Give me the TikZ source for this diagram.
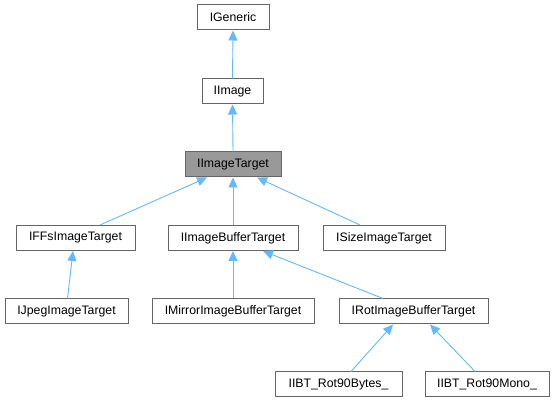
\documentclass[tikz,border=0pt]{standalone}
\usepackage{fontspec}
\setmainfont{Liberation Sans}
\usetikzlibrary{arrows.meta}
\definecolor{edgeblue}{HTML}{63B8FF}
\definecolor{boxline}{HTML}{666666}
\definecolor{curfill}{HTML}{999999}
\tikzset{
  cls/.style={draw=boxline, line width=1pt, fill=white, minimum height=25pt, inner sep=0pt, font=\fontsize{12.3}{14}\selectfont},
  cur/.style={cls, fill=curfill},
  inh/.style={draw=edgeblue, line width=0.9pt, -{Triangle[length=10pt,width=9pt]}}
}
\begin{document}
\begin{tikzpicture}[x=1pt,y=-1pt]
\useasboundingbox (0,0) rectangle (555,403);
\node[cls, minimum width=72pt] (gen) at (233,17.5) {IGeneric};
\node[cls, minimum width=61pt] (img) at (232.5,91.5) {IImage};
\node[cur, minimum width=96pt] (tgt) at (233,164.5) {IImageTarget};
\node[cls, minimum width=119pt] (ffs) at (75.5,238) {IFFsImageTarget};
\node[cls, minimum width=130pt] (buf) at (233,238) {IImageBufferTarget};
\node[cls, minimum width=122pt] (size) at (384,238) {ISizeImageTarget};
\node[cls, minimum width=123pt] (jpeg) at (66.5,311.5) {IJpegImageTarget};
\node[cls, minimum width=162pt] (mir) at (233,311.5) {IMirrorImageBufferTarget};
\node[cls, minimum width=149pt] (rot) at (413.5,311.5) {IRotImageBufferTarget};
\node[cls, minimum width=127pt] (bytes) at (338.5,384.5) {IIBT\_Rot90Bytes\_};
\node[cls, minimum width=124pt] (mono) at (487,384.5) {IIBT\_Rot90Mono\_};

\draw[inh] (img.north) -- (gen.south);
\draw[inh] (tgt.north) -- (img.south);
\draw[inh] ([xshift=24.5pt]ffs.north) -- ([xshift=-26pt]tgt.south);
\draw[inh] (buf.north) -- (tgt.south);
\draw[inh] ([xshift=-24pt]size.north) -- ([xshift=24pt]tgt.south);
\draw[inh] ([xshift=1pt]jpeg.north) -- ([xshift=-2.5pt]ffs.south);
\draw[inh] (mir.north) -- (buf.south);
\draw[inh] ([xshift=-30.5pt]rot.north) -- ([xshift=30pt]buf.south);
\draw[inh] ([xshift=12.5pt]bytes.north) -- ([xshift=-20.5pt]rot.south);
\draw[inh] ([xshift=-12pt]mono.north) -- ([xshift=16.5pt]rot.south);
\end{tikzpicture}
\end{document}
